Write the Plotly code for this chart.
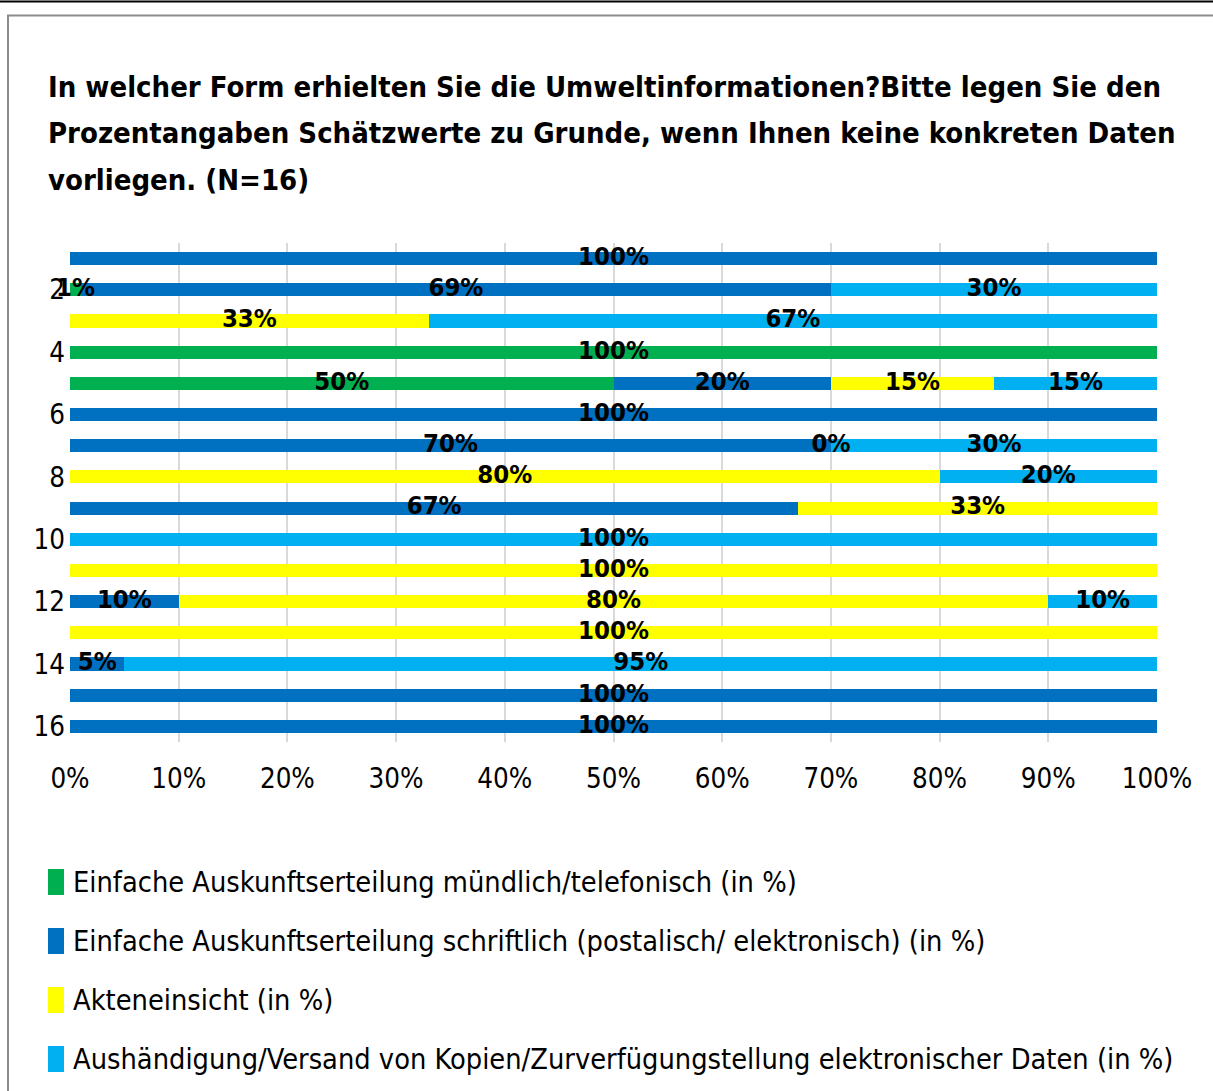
import plotly.graph_objects as go

# ---------------- data ----------------
rows = list(range(1, 17))
series_names = [
    "Einfache Auskunftserteilung mündlich/telefonisch (in %)",
    "Einfache Auskunftserteilung schriftlich (postalisch/ elektronisch) (in %)",
    "Akteneinsicht (in %)",
    "Aushändigung/Versand von Kopien/Zurverfügungstellung elektronischer Daten (in %)",
]
green = [0, 1, 0, 100, 50, 0, 0, 0, 0, 0, 0, 0, 0, 0, 0, 0]
blue = [100, 69, 0, 0, 20, 100, 70, 0, 67, 0, 0, 10, 0, 5, 100, 100]
yellow = [0, 0, 33, 0, 15, 0, 0, 80, 33, 0, 100, 80, 100, 0, 0, 0]
light = [0, 30, 67, 0, 15, 0, 30, 20, 0, 100, 0, 10, 0, 95, 0, 0]
colors = ["#00B050", "#0070C0", "#FFFF00", "#00B0F0"]
# zero-valued segments that still carry a data label (series index, row)
zero_labels = [(2, 7)]
x_ticks = list(range(0, 101, 10))
x_tick_text = [f"{v}%" for v in x_ticks]
y_ticks = [2, 4, 6, 8, 10, 12, 14, 16]
title_lines = [
    "In welcher Form erhielten Sie die Umweltinformationen?Bitte legen Sie den",
    "Prozentangaben Schätzwerte zu Grunde, wenn Ihnen keine konkreten Daten",
    "vorliegen. (N=16)",
]

# ---------------- layout constants ----------------
W, H = 1213, 1091
PL, PR, PT, PB = 70, 1157, 243, 742  # plot area in pixels
FONT = "DejaVu Sans Condensed, DejaVu Sans, sans-serif"


def px_x(px):
    return (px - PL) / (PR - PL)


def px_y(py):
    return (PB - py) / (PB - PT)


fig = go.Figure()
series = [green, blue, yellow, light]
for name, vals, col in zip(series_names, series, colors):
    fig.add_trace(go.Bar(
        y=rows, x=vals, orientation="h", name=name,
        marker=dict(color=col, line=dict(width=0)),
        width=0.42, showlegend=False, hoverinfo="skip",
    ))

# data labels at segment centres
lx, ly, lt = [], [], []
cum = [0] * len(rows)
for si, vals in enumerate(series):
    for ri, v in enumerate(vals):
        if v > 0 or (si, rows[ri]) in zero_labels:
            lx.append(cum[ri] + v / 2)
            ly.append(rows[ri])
            lt.append(f"{v}%")
        cum[ri] += v
fig.add_trace(go.Scatter(
    x=lx, y=ly, text=lt, mode="text", textposition="middle center",
    textfont=dict(family=FONT, size=25.5, color="black", weight="bold"),
    showlegend=False, hoverinfo="skip", cliponaxis=False,
))

annotations = []
title_y = [87, 133, 180]
for line, ty in zip(title_lines, title_y):
    annotations.append(dict(
        text=line, xref="paper", yref="paper", x=px_x(46), y=px_y(ty),
        xanchor="left", yanchor="middle", showarrow=False,
        font=dict(family=FONT, size=29, color="black", weight="bold"),
    ))

shapes = [
    dict(type="line", xref="paper", yref="paper", x0=px_x(0), x1=px_x(W),
         y0=px_y(1.5), y1=px_y(1.5), line=dict(color="black", width=2)),
    dict(type="line", xref="paper", yref="paper", x0=px_x(7), x1=px_x(W),
         y0=px_y(15.5), y1=px_y(15.5), line=dict(color="#8C8C8C", width=2)),
    dict(type="line", xref="paper", yref="paper", x0=px_x(8), x1=px_x(8),
         y0=px_y(15), y1=px_y(H), line=dict(color="#8C8C8C", width=2)),
]

leg_y = [882, 941, 1000, 1059]
for name, col, cy in zip(series_names, colors, leg_y):
    shapes.append(dict(type="rect", xref="paper", yref="paper",
                       x0=px_x(48), x1=px_x(64), y0=px_y(cy - 13), y1=px_y(cy + 13),
                       fillcolor=col, line=dict(width=0)))
    annotations.append(dict(
        text=name, xref="paper", yref="paper", x=px_x(71), y=px_y(cy),
        xanchor="left", yanchor="middle", showarrow=False,
        font=dict(family=FONT, size=28.7, color="black"),
    ))

fig.update_layout(
    width=W, height=H,
    margin=dict(l=PL, r=W - PR, t=PT, b=H - PB, pad=0),
    barmode="stack",
    plot_bgcolor="white", paper_bgcolor="white",
    font=dict(family=FONT, color="black"),
    shapes=shapes, annotations=annotations,
    xaxis=dict(range=[0, 100], tickmode="array", tickvals=x_ticks,
               ticktext=x_tick_text,
               showgrid=True, gridcolor="#D9D9D9", gridwidth=2,
               zeroline=False, showline=False, ticks="",
               ticklabelstandoff=17,
               tickfont=dict(family=FONT, size=27.5, color="black")),
    yaxis=dict(range=[16.5, 0.5], tickvals=y_ticks, showgrid=False,
               zeroline=False, showline=False, ticks="",
               ticklabelstandoff=4,
               tickfont=dict(family=FONT, size=27.5, color="black")),
)

fig.write_html(
    "out.html",
    config={"displayModeBar": False, "staticPlot": True},
    post_script="document.body.style.margin='0';document.body.style.overflow='hidden';",
)
